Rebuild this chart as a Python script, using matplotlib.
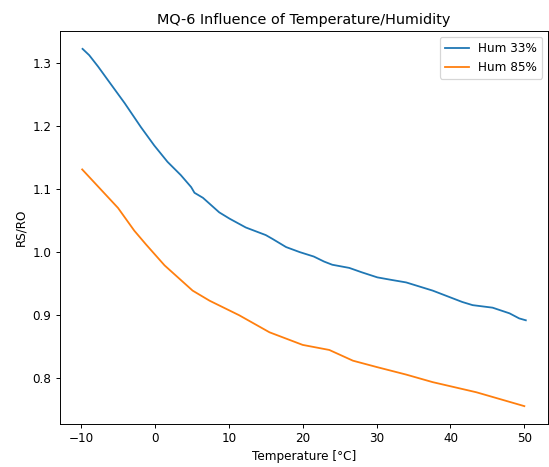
import matplotlib
matplotlib.use("Agg")
import matplotlib.pyplot as plt

temp_33 = [-9.8, -8.9, -7.7, -6.4, -4.1, -1.9, -0.1, 1.7, 3.5, 4.9, 5.35, 6.5, 8.7, 10.1,
           12.3, 15.0, 15.9, 17.75, 19.6, 21.5, 22.9, 24.0, 26.3, 28.0, 30.1, 32.0, 34.0,
           37.6, 41.6, 43.0, 45.7, 48.0, 49.3, 50.2]
rs_33 = [1.322, 1.312, 1.294, 1.273, 1.236, 1.198, 1.169, 1.143, 1.122, 1.103, 1.094, 1.086,
         1.063, 1.053, 1.039, 1.027, 1.021, 1.008, 1.000, 0.993, 0.985, 0.980, 0.975, 0.968,
         0.960, 0.956, 0.952, 0.939, 0.921, 0.916, 0.912, 0.903, 0.895, 0.892]

temp_85 = [-9.85, -5.0, -2.8, -1.2, 1.3, 5.1, 7.4, 11.4, 15.5, 20.0, 23.6, 26.8, 30.0,
           34.0, 37.6, 43.5, 50.0]
rs_85 = [1.131, 1.070, 1.034, 1.012, 0.979, 0.939, 0.923, 0.900, 0.873, 0.853, 0.845,
         0.828, 0.818, 0.806, 0.794, 0.778, 0.756]

DPI = 86.4
fig = plt.figure(figsize=(549 / DPI, 467 / DPI), dpi=DPI)
ax = fig.add_axes([60 / 549, 1 - 424 / 467, 488 / 549, 393 / 467])
ax.plot(temp_33, rs_33, label="Hum 33%")
ax.plot(temp_85, rs_85, label="Hum 85%")
ax.set_title("MQ-6 Influence of Temperature/Humidity")
ax.set_xlabel("Temperature [°C]")
ax.set_ylabel("RS/RO")
ax.set_xticks([-10, 0, 10, 20, 30, 40, 50])
ax.set_yticks([0.8, 0.9, 1.0, 1.1, 1.2, 1.3])
ax.legend(loc="upper right")
fig.savefig("out.png", dpi=DPI)
